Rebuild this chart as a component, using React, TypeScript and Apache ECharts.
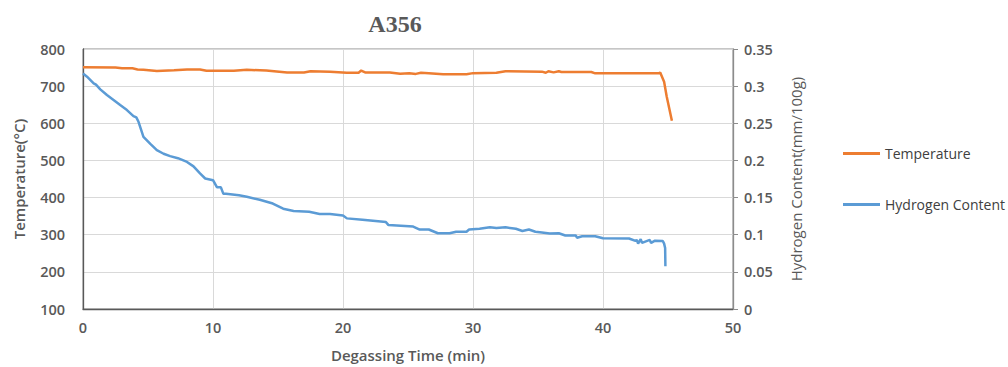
import React, { useEffect, useRef } from "react";
import * as echarts from "echarts";

const titleText = "A356";
const tempName = "Temperature";
const h2Name = "Hydrogen Content";

const tempTime = [0, 2.5, 3.0, 3.8, 4.2, 4.65, 5.68, 7, 8.0, 9.0, 9.5, 11.6, 12.6, 14.1, 15.7, 17.0, 17.5, 19.0, 20.3, 21.2, 21.4, 21.7, 23.6, 24.4, 25.1, 25.6, 26.0, 26.6, 27.7, 29.5, 30.0, 31.8, 32.5, 35.3, 35.6, 35.8, 36.2, 36.6, 36.8, 39.1, 39.4, 44.3, 44.4, 44.7, 44.9, 45.3];
const tempValues = [751, 750, 748, 748, 745, 744, 741, 743, 745, 745, 741.5, 741.5, 744, 742, 737, 737, 740, 739, 736, 736, 742, 737, 737, 733.5, 735, 733, 736, 735, 732, 732, 735, 736, 740, 739, 736, 740, 737, 740, 738, 738, 734.5, 734.5, 737, 712, 672, 607];

const h2Time = [0, 0.31, 0.82, 1.0, 1.33, 1.84, 2.35, 2.86, 3.38, 3.88, 4.1, 4.27, 4.65, 5.2, 5.68, 6.2, 6.7, 7.3, 8.0, 8.5, 9.0, 9.4, 10.0, 10.3, 10.6, 10.8, 11.0, 12.0, 12.6, 13.6, 14.6, 15.4, 16.2, 17.4, 18.2, 19.0, 20.0, 20.3, 21.5, 23.3, 23.5, 25.4, 25.9, 26.6, 27.3, 28.2, 28.7, 29.5, 29.7, 30.5, 31.3, 31.8, 32.5, 33.3, 33.8, 34.3, 34.8, 35.3, 35.9, 36.6, 37.1, 37.9, 38.0, 38.4, 39.4, 40.0, 42.0, 42.5, 42.6, 42.7, 42.9, 43.0, 43.6, 43.7, 44.0, 44.6, 44.7, 44.78, 44.8];
const h2Values = [0.317, 0.3127, 0.3038, 0.302, 0.2957, 0.288, 0.2813, 0.2745, 0.2678, 0.2597, 0.258, 0.252, 0.2318, 0.222, 0.2139, 0.209, 0.2058, 0.203, 0.198, 0.192, 0.1825, 0.1757, 0.1734, 0.164, 0.164, 0.155, 0.155, 0.153, 0.151, 0.147, 0.142, 0.135, 0.132, 0.131, 0.128, 0.128, 0.126, 0.122, 0.12, 0.117, 0.113, 0.111, 0.107, 0.107, 0.102, 0.102, 0.104, 0.104, 0.107, 0.108, 0.11, 0.109, 0.11, 0.108, 0.105, 0.107, 0.104, 0.103, 0.1016, 0.102, 0.099, 0.099, 0.096, 0.098, 0.098, 0.0953, 0.0949, 0.0916, 0.093, 0.088, 0.094, 0.089, 0.093, 0.089, 0.092, 0.0916, 0.088, 0.082, 0.0575];

const xName = "Degassing Time (min)";
const yLeftName = "Temperature(°C)";
const yRightName = "Hydrogen Content(mm/100g)";

const font = "'Open Sans', 'DejaVu Sans', sans-serif";

export default function App() {
  const ref = useRef<HTMLDivElement>(null);
  useEffect(() => {
    if (!ref.current) return;
    const chart = echarts.init(ref.current, undefined, { renderer: "svg" });
    chart.setOption({
      animation: false,
      backgroundColor: "#ffffff",
      title: {
        text: titleText,
        left: 390,
        textAlign: "center",
        top: 7,
        textStyle: { fontFamily: "'Liberation Serif', serif", fontWeight: "bold", fontSize: 24, color: "#595959" },
      },
      legend: {
        orient: "vertical",
        left: 843,
        top: 145,
        padding: 0,
        itemGap: 34,
        itemWidth: 37,
        itemHeight: 3,
        icon: "rect",
        textStyle: { fontFamily: font, fontSize: 14, color: "#404040", lineHeight: 17 },
        data: [tempName, h2Name],
      },
      grid: { left: 83, right: 275, top: 49, bottom: 58, show: true, borderColor: "#8c8c8c", borderWidth: 1 },
      xAxis: {
        type: "value",
        min: 0,
        max: 50,
        interval: 10,
        name: xName,
        nameLocation: "middle",
        nameGap: 38,
        nameTextStyle: { fontFamily: font, fontWeight: 600, fontSize: 15, color: "#595959" },
        axisLine: { show: true, lineStyle: { color: "#595959", width: 1.3 } },
        axisTick: { show: false },
        axisLabel: { fontFamily: font, fontWeight: 600, fontSize: 14.5, color: "#595959", margin: 11 },
        splitLine: { show: true, lineStyle: { color: "#d9d9d9", width: 1 } },
      },
      yAxis: [
        {
          type: "value",
          min: 100,
          max: 800,
          interval: 100,
          name: yLeftName,
          nameLocation: "middle",
          nameGap: 57,
          nameTextStyle: { fontFamily: font, fontWeight: 600, fontSize: 15, color: "#595959" },
          axisLine: { show: true, lineStyle: { color: "#595959", width: 1.3 } },
          axisTick: { show: false },
          axisLabel: { fontFamily: font, fontWeight: 600, fontSize: 14.5, color: "#595959", margin: 18 },
          splitLine: { show: true, lineStyle: { color: "#d9d9d9", width: 1 } },
        },
        {
          type: "value",
          min: 0,
          max: 0.35,
          interval: 0.05,
          position: "right",
          name: yRightName,
          nameLocation: "middle",
          nameGap: 55,
          nameTextStyle: { fontFamily: font, fontSize: 15, color: "#595959" },
          axisLine: { show: true, lineStyle: { color: "#8c8c8c", width: 1.3 } },
          axisTick: { show: true, inside: false, length: 5, lineStyle: { color: "#8c8c8c" } },
          axisLabel: { fontFamily: font, fontWeight: 600, fontSize: 14.5, color: "#595959", margin: 11 },
          splitLine: { show: false },
        },
      ],
      series: [
        {
          name: tempName,
          type: "line",
          yAxisIndex: 0,
          data: tempTime.map((t, i) => [t, tempValues[i]]),
          showSymbol: false,
          symbol: "none",
          lineStyle: { color: "#ED7D31", width: 2.5 },
          itemStyle: { color: "#ED7D31" },
        },
        {
          name: h2Name,
          type: "line",
          yAxisIndex: 1,
          data: h2Time.map((t, i) => [t, h2Values[i]]),
          showSymbol: false,
          symbol: "none",
          lineStyle: { color: "#5B9BD5", width: 2.5 },
          itemStyle: { color: "#5B9BD5" },
        },
      ],
    });
    return () => chart.dispose();
  }, []);
  return <div ref={ref} style={{ position: "fixed", left: 0, top: 0, width: 1008, height: 367 }} />;
}
